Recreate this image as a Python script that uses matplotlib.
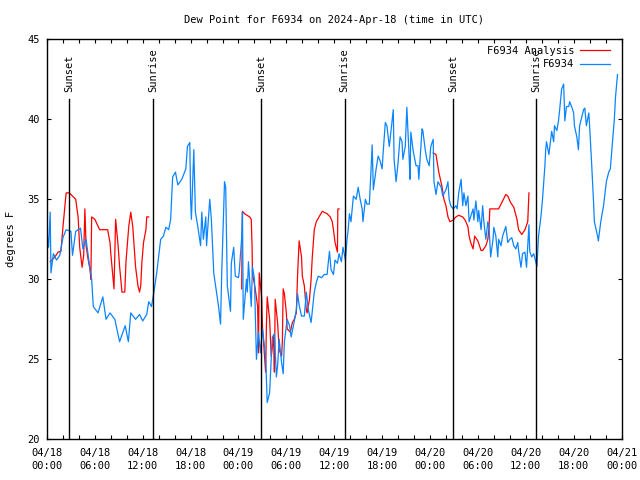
import numpy as np
import matplotlib
matplotlib.use('Agg')
import matplotlib.pyplot as plt
from matplotlib.ticker import MultipleLocator

# hours since 2024-04-18 00:00 UTC
obs_hours = [0.0, 0.2, 0.4, 0.5, 0.8, 1.2, 1.6, 2.0, 2.4, 3.0, 3.2, 3.6, 4.2, 4.5, 4.9, 5.4, 5.6, 5.8,
             6.4, 7.0, 7.4, 7.9, 8.5, 9.1, 9.8, 10.2, 10.5, 11.1, 11.6, 12.0, 12.5, 12.75, 13.1, 13.4,
             13.75, 14.25, 14.6, 14.9, 15.25, 15.5, 15.75, 16.1, 16.4, 16.9, 17.4, 17.6, 17.9, 18.0,
             18.1, 18.4, 18.6, 18.9, 19.25, 19.4, 19.6, 19.9, 20.0, 20.4, 20.6, 20.9, 21.25, 21.5,
             21.75, 21.9, 22.25, 22.4, 22.6, 23.0, 23.1, 23.4, 23.6, 24.0, 24.1, 24.4, 24.5, 24.6,
             25.0, 25.1, 25.25, 25.6, 25.75, 26.0, 26.25, 26.5, 26.75, 27.0, 27.4, 27.5, 27.6, 27.9,
             28.1, 28.25, 28.5, 28.75, 28.9, 29.1, 29.4, 29.6, 29.75, 30.1, 30.4, 30.6, 31.0, 31.25,
             31.4, 31.6, 31.9, 32.25, 32.5, 32.75, 33.1, 33.5, 33.75, 34.0, 34.4, 34.75, 35.1, 35.4,
             35.6, 35.9, 36.1, 36.4, 36.6, 36.9, 37.1, 37.4, 37.6, 37.75, 37.9, 38.1, 38.4, 38.75,
             39.0, 39.25, 39.5, 39.6, 39.9, 40.1, 40.4, 40.6, 40.75, 40.9, 41.25, 41.5, 41.75, 42.0,
             42.1, 42.4, 42.6, 42.9, 43.1, 43.4, 43.5, 43.75, 44.0, 44.25, 44.5, 44.6, 44.9, 45.1,
             45.4, 45.5, 45.6, 45.9, 46.25, 46.5, 46.6, 47.0, 47.1, 47.4, 47.6, 47.9, 48.1, 48.4,
             48.5, 48.75, 49.0, 49.4, 49.6, 50.0, 50.25, 50.4, 50.6, 50.9, 51.25, 51.4, 51.6, 51.9,
             52.1, 52.25, 52.5, 52.75, 52.9, 53.4, 53.5, 53.75, 54.0, 54.1, 54.4, 54.6, 54.75, 55.0,
             55.25, 55.4, 55.6, 55.9, 56.0, 56.25, 56.5, 56.6, 56.9, 57.1, 57.5, 57.75, 58.0, 58.25,
             58.5, 58.75, 59.0, 59.1, 59.4, 59.6, 59.9, 60.1, 60.4, 60.5, 60.75, 61.0, 61.4, 61.6,
             61.9, 62.1, 62.4, 62.5, 62.6, 62.9, 63.1, 63.25, 63.5, 63.6, 63.9, 64.1, 64.25, 64.5,
             64.75, 64.9, 65.1, 65.4, 65.5, 65.75, 66.0, 66.1, 66.4, 66.6, 66.75, 67.25, 67.4, 67.6,
             67.9, 68.0, 68.25, 68.5, 68.6, 69.0, 69.1, 69.4, 69.75, 70.1, 70.4, 70.6, 70.9, 71.1,
             71.25, 71.5]
obs_dewpt = [33.0, 32.0, 34.2, 30.4, 31.6, 31.2, 31.5, 32.6, 33.1, 33.0, 31.5, 33.0, 33.2, 31.9, 32.5,
             30.6, 30.0, 28.3, 27.9, 28.9, 27.5, 27.9, 27.5, 26.1, 27.1, 26.1, 27.9, 27.5, 27.8, 27.4,
             27.8, 28.6, 28.3, 29.2, 30.4, 32.5, 32.7, 33.25, 33.1, 33.75, 36.4, 36.7, 35.9, 36.25,
             36.9, 38.3, 38.55, 35.0, 33.75, 38.1, 34.2, 33.3, 32.1, 34.2, 32.5, 33.9, 32.1, 35.0,
             33.75, 30.4, 29.2, 28.3, 27.2, 30.4, 36.1, 35.75, 29.6, 28.0, 31.0, 32.0, 30.2, 30.1,
             30.5, 32.6, 34.2, 27.5, 30.0, 29.2, 31.1, 28.3, 30.8, 30.0, 25.0, 26.7, 25.4, 26.9, 25.2,
             23.75, 22.3, 22.9, 25.0, 26.4, 26.6, 23.9, 24.6, 26.25, 24.8, 24.1, 26.1, 27.5, 27.1,
             26.4, 27.4, 28.1, 29.1, 28.4, 27.7, 27.7, 29.2, 28.1, 27.3, 29.2, 29.8, 30.2, 30.1, 30.3,
             30.3, 31.75, 30.6, 30.3, 31.2, 31.0, 31.6, 31.1, 32.0, 31.2, 32.5, 33.1, 34.1, 33.6, 35.2,
             35.0, 35.75, 35.0, 34.4, 33.6, 35.0, 34.7, 34.7, 36.7, 38.4, 35.6, 36.9, 37.7, 37.4, 36.9,
             37.7, 39.8, 39.6, 38.3, 39.2, 40.6, 37.5, 36.1, 37.3, 38.9, 38.6, 37.5, 38.3, 40.75, 37.5,
             36.25, 39.2, 38.0, 37.1, 37.1, 36.25, 39.4, 39.3, 38.1, 37.5, 37.1, 38.3, 38.75, 36.1,
             35.3, 36.1, 35.75, 35.2, 35.6, 36.1, 35.0, 34.6, 34.4, 34.6, 34.4, 35.4, 36.25, 34.6,
             35.4, 34.6, 35.2, 33.6, 34.4, 33.7, 34.9, 33.6, 34.3, 33.1, 34.6, 33.6, 32.5, 33.6,
             33.25, 31.4, 32.5, 33.25, 32.7, 31.4, 32.5, 32.1, 32.7, 33.3, 32.3, 32.5, 32.6, 32.1,
             31.9, 32.3, 31.8, 30.75, 31.6, 31.7, 30.75, 33.4, 31.75, 31.4, 31.6, 30.8, 32.7, 33.9,
             35.0, 37.1, 38.1, 38.6, 37.8, 38.6, 39.25, 38.6, 39.6, 39.3, 39.9, 40.6, 41.9, 42.2,
             39.9, 40.8, 40.8, 41.1, 40.8, 40.4, 39.6, 38.9, 38.1, 39.6, 40.6, 40.7, 39.6, 40.4,
             39.6, 37.3, 34.8, 33.6, 32.7, 32.4, 33.6, 34.6, 36.1, 36.7, 36.9, 38.75, 40.0, 41.4, 42.8]

# analysis series, nan marks the gaps between segments
ana_hours = [0.4, 1.0, 1.4, 1.75, 2.0, 2.4, 2.75, 3.0, 3.6, 3.9, 4.1, 4.4, 4.6, 4.75, 4.9, 5.1, 5.4,
             5.5, 5.6, 6.0, 6.6, 7.6, 7.9, 8.0, 8.25, 8.4, 8.6, 8.9, 9.1, 9.4, 9.75, 9.9, 10.25, 10.5,
             10.75, 11.1, 11.4, 11.6, 11.75, 11.9, 12.1, 12.4, 12.5, 12.75, 13.0,
             24.4, 24.5, 24.75, 25.4, 25.6, 25.7, 25.75, 26.1, 26.4, 26.5, 26.6, 26.9, 27.0, 27.4,
             27.5, 27.6, 27.9, 28.1, 28.4, 28.5, 28.6, 28.9, 29.1, 29.4, 29.5, 29.6, 29.75, 30.0,
             30.1, 30.5, 30.75, 31.0, 31.25, 31.4, 31.6, 31.9, 32.0, 32.25, 32.5, 32.6, 32.9, 33.1,
             33.25, 33.5, 33.75, 34.1, 34.5, 35.1, 35.5, 35.75, 35.9, 36.1, 36.4, 36.45, 36.6, 37.0,
             48.4, 48.75, 49.1, 49.5, 49.75, 50.0, 50.25, 50.5, 50.9, 51.25, 51.6, 52.1, 52.4, 52.75,
             52.9, 53.1, 53.4, 53.6, 54.0, 54.4, 54.6, 55.0, 55.25, 55.4, 55.5, 55.9, 56.25, 56.6,
             57.1, 57.5, 57.75, 58.1, 58.5, 58.9, 59.1, 59.5, 59.9, 60.25, 60.4]
ana_dewpt = [31.1, 31.4, 31.7, 31.75, 33.25, 35.4, 35.4, 35.3, 35.0, 33.9, 32.0, 30.75, 31.5, 34.4,
             32.1, 31.4, 30.6, 30.0, 33.9, 33.75, 33.1, 33.1, 32.3, 31.6, 30.2, 29.4, 33.75, 32.2,
             30.8, 29.2, 29.2, 31.1, 33.3, 34.2, 33.3, 30.8, 29.6, 29.2, 29.6, 31.1, 32.3, 33.1,
             33.9, 33.9, np.nan,
             29.4, 34.25, 34.1, 33.9, 33.75, 32.1, 30.4, 29.4, 28.3, 25.4, 30.4, 28.9, 27.1, 24.2,
             27.1, 28.9, 27.5, 25.2, 26.4, 24.2, 28.75, 27.3, 25.6, 25.2, 26.1, 29.4, 29.1, 27.9,
             26.9, 26.7, 27.3, 27.5, 27.9, 30.2, 32.4, 31.4, 30.2, 29.6, 28.1, 27.9, 28.75, 30.0,
             31.4, 33.1, 33.6, 33.9, 34.25, 34.1, 33.9, 33.6, 33.1, 32.3, 31.7, 34.4, 34.4, np.nan,
             37.9, 37.8, 36.7, 35.8, 35.0, 34.6, 33.9, 33.6, 33.7, 33.9, 34.0, 33.9, 33.7, 33.3,
             32.7, 32.3, 31.9, 32.7, 32.4, 31.8, 31.8, 32.1, 32.5, 33.25, 34.4, 34.4, 34.4, 34.4,
             34.9, 35.3, 35.2, 34.8, 34.5, 33.75, 33.1, 32.8, 33.1, 33.6, 35.4]

sun_hours = [2.75, 13.3, 26.8, 37.3, 50.9, 61.3]
sun_labels = ['Sunset', 'Sunrise', 'Sunset', 'Sunrise', 'Sunset', 'Sunrise']

tick_hours = list(range(0, 73, 6))
tick_labels = ['04/18\n00:00', '04/18\n06:00', '04/18\n12:00', '04/18\n18:00',
               '04/19\n00:00', '04/19\n06:00', '04/19\n12:00', '04/19\n18:00',
               '04/20\n00:00', '04/20\n06:00', '04/20\n12:00', '04/20\n18:00',
               '04/21\n00:00']

plt.rcParams['font.family'] = 'DejaVu Sans Mono'
plt.rcParams['font.size'] = 7.5

fig = plt.figure(figsize=(6.4, 4.8), dpi=100)
ax = fig.add_axes([0.0734, 0.0848, 0.8977, 0.8333])

ax.plot(ana_hours, ana_dewpt, color='#ff0000', lw=0.9, label='F6934 Analysis')
ax.plot(obs_hours, obs_dewpt, color='#0a84ff', lw=0.9, label='F6934')

for h, lab in zip(sun_hours, sun_labels):
    ax.plot([h, h], [20, 41.25], color='black', lw=1.0)
    ax.text(h, 41.7, lab, rotation=90, ha='center', va='bottom')

ax.set_xlim(0, 72)
ax.set_ylim(20, 45)
ax.set_xticks(tick_hours)
ax.set_xticklabels(tick_labels)
for lbl in ax.get_xticklabels():
    lbl.set_linespacing(1.35)
ax.xaxis.set_minor_locator(MultipleLocator(2))
ax.yaxis.set_major_locator(MultipleLocator(5))
ax.tick_params(which='both', direction='in', top=True, right=True, width=0.8, length=2.6)
ax.tick_params(axis='x', which='major', pad=6.5)
ax.tick_params(axis='y', which='major', pad=5)
for s in ax.spines.values():
    s.set_linewidth(1.0)

ax.set_title('Dew Point for F6934 on 2024-Apr-18 (time in UTC)', fontsize=7.5, pad=12)
ax.set_ylabel('degrees F', labelpad=8)

leg = ax.legend(loc='upper right', bbox_to_anchor=(0.99, 1.0), frameon=False,
                markerfirst=False, handlelength=2.8, handletextpad=0.6,
                labelspacing=0.35, borderaxespad=0.0, borderpad=0.6)

fig.savefig('out.png', dpi=100)
